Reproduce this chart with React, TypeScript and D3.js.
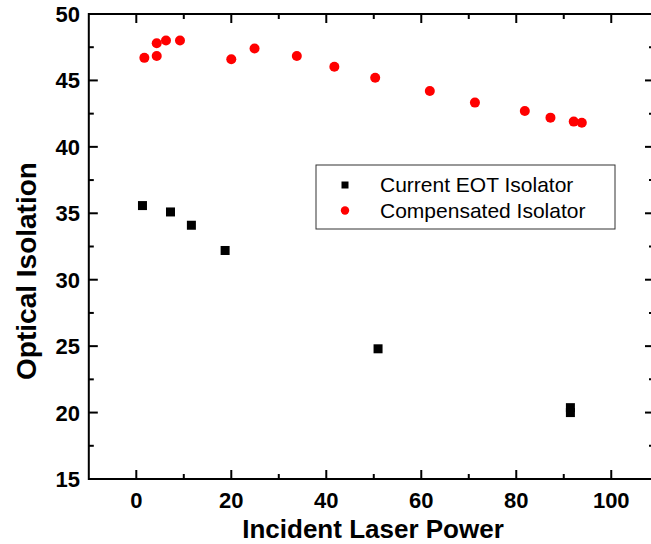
import React, { useEffect, useRef } from 'react';
import * as d3 from 'd3';

// Current EOT isolator (black squares)
const eotPower = [1.3, 7.2, 11.6, 18.7, 50.9, 91.4, 91.4];
const eotIsolation = [35.58, 35.1, 34.1, 32.2, 24.8, 20.37, 20.0];

// Compensated isolator (red circles)
const compPower = [1.7, 4.3, 4.3, 6.25, 9.2, 20.0, 24.9, 33.8, 41.7, 50.3, 61.8, 71.3, 81.8, 87.2, 92.1, 93.8];
const compIsolation = [46.7, 47.8, 46.84, 48.0, 48.0, 46.6, 47.4, 46.84, 46.03, 45.2, 44.2, 43.33, 42.7, 42.2, 41.9, 41.82];

const xTicks = [0, 20, 40, 60, 80, 100];
const yTicks = [15, 20, 25, 30, 35, 40, 45, 50];
const legendLabels = ['Current EOT Isolator', 'Compensated Isolator'];

const W = 651;
const H = 544;

const App = () => {
  const svgRef = useRef<SVGSVGElement | null>(null);

  useEffect(() => {
    const svg = d3.select(svgRef.current);
    svg.selectAll('*').remove();

    const x = d3.scaleLinear().domain([-10, 109]).range([88.8, 654]);
    const y = d3.scaleLinear().domain([15, 50]).range([479, 14]);
    const font = 'Liberation Sans, Arial, sans-serif';

    const g = svg.append('g');

    // frame
    const x0 = x(-10), x1 = x(109), y0 = y(15), y1 = y(50);
    g.append('rect')
      .attr('x', x0).attr('y', y1)
      .attr('width', x1 - x0).attr('height', y0 - y1)
      .attr('fill', 'none').attr('stroke', '#000').attr('stroke-width', 2);

    // x ticks (bottom + top, inward)
    const xMinor = d3.range(-10, 110, 10).filter(v => !xTicks.includes(v) && v > -10);
    xTicks.forEach(v => {
      g.append('line').attr('x1', x(v)).attr('x2', x(v)).attr('y1', y0).attr('y2', y0 - 9).attr('stroke', '#000').attr('stroke-width', 2);
      g.append('line').attr('x1', x(v)).attr('x2', x(v)).attr('y1', y1).attr('y2', y1 + 9).attr('stroke', '#000').attr('stroke-width', 2);
      g.append('text').attr('x', x(v)).attr('y', 508).attr('text-anchor', 'middle')
        .attr('font-family', font).attr('font-weight', 'bold').attr('font-size', 22).text(v);
    });
    xMinor.forEach(v => {
      g.append('line').attr('x1', x(v)).attr('x2', x(v)).attr('y1', y0).attr('y2', y0 - 5).attr('stroke', '#000').attr('stroke-width', 2);
      g.append('line').attr('x1', x(v)).attr('x2', x(v)).attr('y1', y1).attr('y2', y1 + 5).attr('stroke', '#000').attr('stroke-width', 2);
    });

    // y ticks (left + right, inward)
    const yMinor = d3.range(17.5, 50, 5);
    yTicks.forEach(v => {
      g.append('line').attr('x1', x0).attr('x2', x0 + 9).attr('y1', y(v)).attr('y2', y(v)).attr('stroke', '#000').attr('stroke-width', 2);
      g.append('line').attr('x1', x1).attr('x2', x1 - 9).attr('y1', y(v)).attr('y2', y(v)).attr('stroke', '#000').attr('stroke-width', 2);
      g.append('text').attr('x', 80).attr('y', y(v) + 8).attr('text-anchor', 'end')
        .attr('font-family', font).attr('font-weight', 'bold').attr('font-size', 22).text(v);
    });
    yMinor.forEach(v => {
      g.append('line').attr('x1', x0).attr('x2', x0 + 5).attr('y1', y(v)).attr('y2', y(v)).attr('stroke', '#000').attr('stroke-width', 2);
      g.append('line').attr('x1', x1).attr('x2', x1 - 5).attr('y1', y(v)).attr('y2', y(v)).attr('stroke', '#000').attr('stroke-width', 2);
    });

    // axis titles
    g.append('text').attr('x', 373).attr('y', 538).attr('text-anchor', 'middle')
      .attr('font-family', font).attr('font-weight', 'bold').attr('font-size', 26).text('Incident Laser Power');
    g.append('text').attr('transform', 'translate(36,271) rotate(-90)').attr('text-anchor', 'middle')
      .attr('font-family', font).attr('font-weight', 'bold').attr('font-size', 28).text('Optical Isolation');

    // data
    g.selectAll('rect.eot').data(eotPower.map((p, i) => [p, eotIsolation[i]])).enter()
      .append('rect').attr('class', 'eot')
      .attr('x', d => x(d[0]) - 4.5).attr('y', d => y(d[1]) - 4.5)
      .attr('width', 9).attr('height', 9).attr('fill', '#000');

    g.selectAll('circle.comp').data(compPower.map((p, i) => [p, compIsolation[i]])).enter()
      .append('circle').attr('class', 'comp')
      .attr('cx', d => x(d[0])).attr('cy', d => y(d[1]))
      .attr('r', 5).attr('fill', '#ff0000');

    // legend
    const lg = g.append('g');
    lg.append('rect').attr('x', 316).attr('y', 165).attr('width', 299).attr('height', 64)
      .attr('fill', '#fff').attr('stroke', '#333').attr('stroke-width', 1);
    lg.append('rect').attr('x', 341.5).attr('y', 181.5).attr('width', 7).attr('height', 7).attr('fill', '#000');
    lg.append('circle').attr('cx', 345).attr('cy', 210.5).attr('r', 4.2).attr('fill', '#ff0000');
    legendLabels.forEach((t, i) => {
      lg.append('text').attr('x', 380).attr('y', 192.3 + i * 26).attr('font-family', font)
        .attr('font-size', 21).attr('fill', '#000').text(t);
    });
  }, []);

  return (
    <div style={{ position: 'absolute', left: 0, top: 0, width: W, height: H, background: '#fff' }}>
      <svg ref={svgRef} width={W} height={H} style={{ display: 'block' }} />
    </div>
  );
};

export default App;
